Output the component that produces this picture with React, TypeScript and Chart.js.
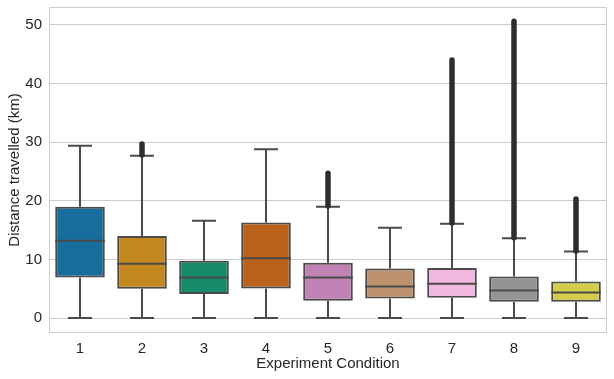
import React, { useEffect, useRef } from 'react';
import { Chart, registerables } from 'chart.js';

Chart.register(...registerables);

const categories = ['1', '2', '3', '4', '5', '6', '7', '8', '9'];
const whiskerLow = [0, 0, 0, 0, 0, 0, 0, 0, 0];
const q1 = [6.9, 5.0, 4.1, 5.05, 2.95, 3.35, 3.46, 2.78, 2.78];
const median = [13.2, 9.25, 6.9, 10.2, 6.93, 5.4, 5.85, 4.7, 4.37];
const q3 = [19.0, 14.0, 9.77, 16.3, 9.43, 8.46, 8.52, 7.1, 6.24];
const whiskerHigh = [29.4, 27.7, 16.6, 28.8, 19.0, 15.4, 16.1, 13.6, 11.35];
const outlierLow: (number | null)[] = [null, 27.8, null, null, 19.1, null, 16.2, 13.7, 11.45];
const outlierHigh: (number | null)[] = [null, 29.7, null, null, 24.7, null, 44.0, 50.6, 20.3];
const yTicks = [0, 10, 20, 30, 40, 50];
const boxColors = ['#176d9c', '#c38820', '#168b6a', '#ba611b', '#c183b5', '#bd926e', '#f1b8e0', '#949494', '#d5cd4a'];

const LINE = '#4a4a4a';
const FLIER = '#2e2e2e';
const TEXT = '#262626';
const GRID = '#cccccc';
const FONT = "'Liberation Sans', Arial, sans-serif";

const boxPlugin = {
  id: 'boxParts',
  beforeDatasetsDraw(chart: any) {
    const { ctx, chartArea } = chart;
    ctx.save();
    ctx.strokeStyle = GRID;
    ctx.lineWidth = 1;
    ctx.strokeRect(chartArea.left + 0.5, chartArea.top + 0.5, chartArea.right - chartArea.left - 1, chartArea.bottom - chartArea.top - 1);
    const xs = chart.scales.x;
    const ys = chart.scales.y;
    ctx.strokeStyle = LINE;
    ctx.lineWidth = 2;
    const capHalf = 12;
    categories.forEach((_, i) => {
      const x = Math.round(xs.getPixelForValue(i));
      const yLo = ys.getPixelForValue(whiskerLow[i]);
      const yQ1 = ys.getPixelForValue(q1[i]);
      const yQ3 = ys.getPixelForValue(q3[i]);
      const yHi = ys.getPixelForValue(whiskerHigh[i]);
      ctx.beginPath();
      ctx.moveTo(x, yLo);
      ctx.lineTo(x, yQ1);
      ctx.moveTo(x, yQ3);
      ctx.lineTo(x, yHi);
      ctx.moveTo(x - capHalf, yLo);
      ctx.lineTo(x + capHalf, yLo);
      ctx.moveTo(x - capHalf, yHi);
      ctx.lineTo(x + capHalf, yHi);
      ctx.stroke();
    });
    ctx.restore();
  },
  afterDatasetsDraw(chart: any) {
    const { ctx } = chart;
    const xs = chart.scales.x;
    const ys = chart.scales.y;
    const meta = chart.getDatasetMeta(0);
    ctx.save();
    categories.forEach((_, i) => {
      const bar = meta.data[i];
      const x = Math.round(xs.getPixelForValue(i));
      const half = bar.width / 2;
      const yM = ys.getPixelForValue(median[i]);
      ctx.strokeStyle = LINE;
      ctx.lineWidth = 2;
      ctx.beginPath();
      ctx.moveTo(x - half, yM);
      ctx.lineTo(x + half, yM);
      ctx.stroke();
      const lo = outlierLow[i];
      const hi = outlierHigh[i];
      if (lo !== null && hi !== null) {
        ctx.strokeStyle = FLIER;
        ctx.lineWidth = 5.5;
        ctx.lineCap = 'round';
        ctx.beginPath();
        ctx.moveTo(x, ys.getPixelForValue(lo));
        ctx.lineTo(x, ys.getPixelForValue(hi));
        ctx.stroke();
        ctx.lineCap = 'butt';
      }
    });
    ctx.restore();
  },
};

export default function App() {
  const ref = useRef<HTMLCanvasElement | null>(null);
  useEffect(() => {
    document.body.style.margin = '0';
    const canvas = ref.current;
    if (!canvas) return;
    const chart = new Chart(canvas, {
      type: 'bar',
      data: {
        labels: categories,
        datasets: [
          {
            data: categories.map((_, i) => [q1[i], q3[i]]) as any,
            backgroundColor: boxColors,
            borderColor: LINE,
            borderWidth: 2,
            borderSkipped: false,
            categoryPercentage: 0.8,
            barPercentage: 1.0,
          },
        ],
      },
      options: {
        animation: false,
        responsive: true,
        maintainAspectRatio: false,
        layout: { padding: { top: 7, right: 7, left: 0, bottom: 0 } },
        plugins: { legend: { display: false }, tooltip: { enabled: false } },
        scales: {
          x: {
            grid: { display: false, drawTicks: false },
            border: { display: false },
            ticks: { color: TEXT, font: { family: FONT, size: 15 }, padding: 7 },
            title: { display: true, text: 'Experiment Condition', color: TEXT, font: { family: FONT, size: 15 }, padding: { top: 0, bottom: 6 } },
            afterFit: (s: any) => { s.height = 46; s.paddingLeft = 0; s.paddingRight = 0; },
          },
          y: {
            min: -2.55,
            max: 53.05,
            grid: { color: GRID, lineWidth: 1, drawTicks: false },
            border: { display: false },
            afterBuildTicks: (s: any) => { s.ticks = yTicks.map((v) => ({ value: v })); },
            ticks: { color: TEXT, font: { family: FONT, size: 15 }, padding: 7 },
            title: { display: true, text: 'Distance travelled (km)', color: TEXT, font: { family: FONT, size: 15 }, padding: { top: 6, bottom: 0 } },
            afterFit: (s: any) => { s.width = 49; s.paddingTop = 0; s.paddingBottom = 0; },
          },
        },
      },
      plugins: [boxPlugin],
    });
    return () => chart.destroy();
  }, []);
  return (
    <div style={{ width: 614, height: 379, position: 'relative' }}>
      <canvas ref={ref} />
    </div>
  );
}
